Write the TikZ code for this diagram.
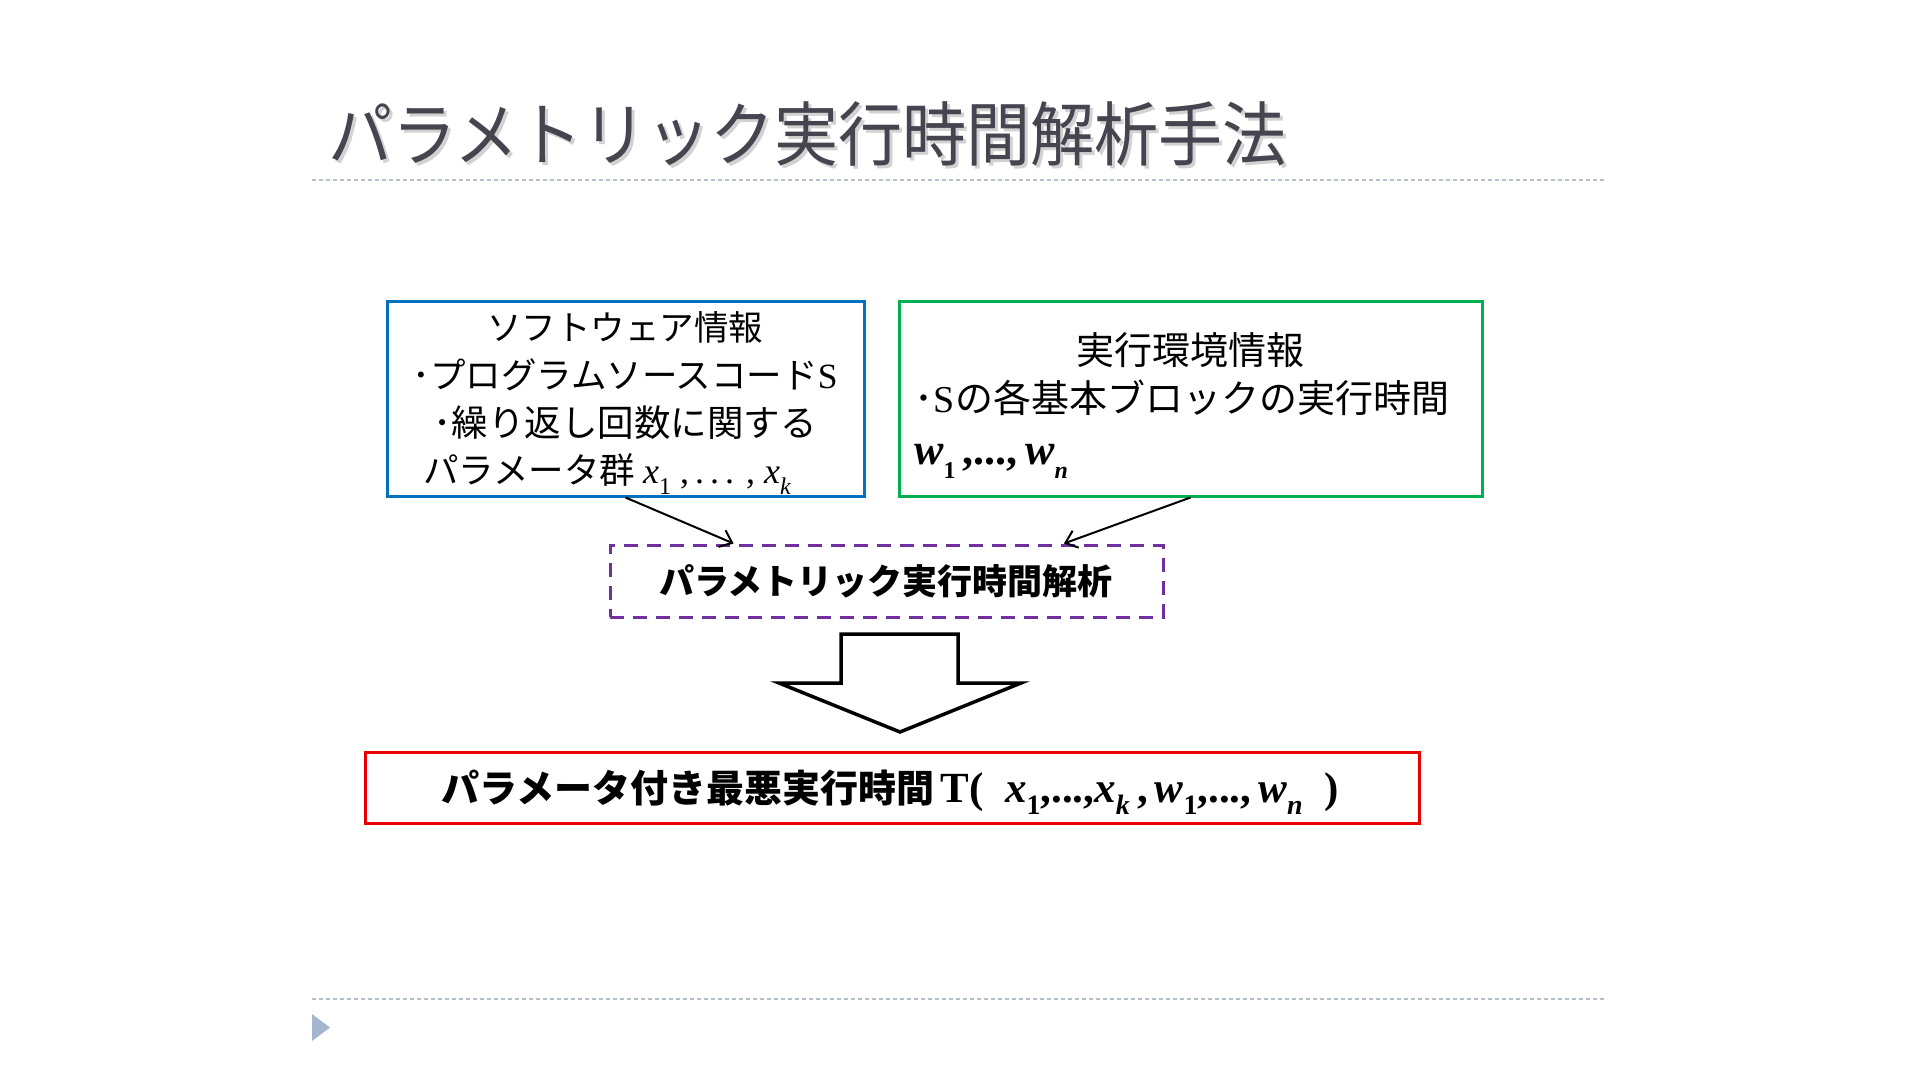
\documentclass[tikz,border=0pt]{standalone}
\usepackage{fontspec}
\usetikzlibrary{arrows.meta,calc}
\setmainfont{Liberation Serif}
\newfontfamily\jp{Noto Sans CJK JP}
\definecolor{boxblue}{HTML}{0070C0}
\definecolor{boxgreen}{HTML}{00B050}
\definecolor{boxpurple}{HTML}{7030A0}
\definecolor{boxred}{HTML}{E80000}
\definecolor{titlegray}{HTML}{46454F}
\definecolor{rulegray}{HTML}{B4C0CC}
\definecolor{trigray}{HTML}{A3B6CE}
\newcommand{\vsub}[2]{{\itshape #1}\raisebox{-0.32em}{\fontsize{24}{24}\selectfont #2}}
\newcommand{\vsubi}[2]{{\itshape #1}\raisebox{-0.32em}{\fontsize{24}{24}\selectfont\itshape #2}}
\newcommand{\vsubb}[2]{{\itshape #1}\raisebox{-0.3em}{\fontsize{28}{28}\selectfont #2}}
\newcommand{\vsubbi}[2]{{\itshape #1}\raisebox{-0.3em}{\fontsize{28}{28}\selectfont\itshape #2}}
\begin{document}
\begin{tikzpicture}[x=1pt,y=-1pt,
  box/.style={draw, line width=3pt, inner sep=0pt},
  jptxt/.style={font=\jp\fontsize{35.5}{40}\selectfont, inner sep=0pt, anchor=base},
  jpbig/.style={font=\jp\fontsize{38}{40}\selectfont, inner sep=0pt, anchor=base},
  jpbold/.style={font=\jp\bfseries\fontsize{35}{40}\selectfont, inner sep=0pt, anchor=base},
  titletext/.style={anchor=base west, inner sep=0pt, font=\jp\fontsize{70}{74}\selectfont, xscale=0.915, transform shape},
  conn/.style={line width=2pt, -{Straight Barb[length=11pt,width=18pt,line width=2pt]}},
  rulestyle/.style={rulegray, line width=1.6pt, dash pattern=on 4pt off 3pt}]
\useasboundingbox[fill=white] (0,0) rectangle (1920,1080);

% title
\node[titletext, text=gray!35] (titleshadow) at (331,163) {パラメトリック実行時間解析手法};
\node[titletext, text=titlegray] (title) at (328,160) {パラメトリック実行時間解析手法};

% rules and bullet
\draw[rulestyle] (312,180) -- (1607,180);
\draw[rulestyle] (312,999) -- (1607,999);
\fill[trigray] (312,1014) -- (330,1027.5) -- (312,1041) -- cycle;

% boxes
\node[box, draw=boxblue, minimum width=477pt, minimum height=195pt] (sw) at (625.5,398.5) {};
\node[box, draw=boxgreen, minimum width=583pt, minimum height=195pt] (env) at (1190.5,398.5) {};
\node[box, draw=boxpurple, dash pattern=on 14pt off 9pt, minimum width=553pt, minimum height=72pt] (pa) at (886.5,581) {};
\node[box, draw=boxred, minimum width=1054pt, minimum height=71pt] (res) at (892,787.5) {};

% blue text
\node[jptxt, font=\jp\fontsize{34.5}{40}\selectfont] (sw1) at (625,340) {ソフトウェア情報};
\node[jptxt] (sw2) at (625,388) {･プログラムソースコード{\rmfamily S}};
\node[jptxt, font=\jp\fontsize{36.5}{40}\selectfont] (sw3) at (625,436) {･繰り返し回数に関する};
\node[jptxt, anchor=base west] (sw4) at (423,483) {パラメータ群 {\rmfamily\fontsize{36}{40}\selectfont\vsub{x}{1} ,\,.\,.\,. , \vsubi{x}{k}}};

% green text
\node[jpbig] (env1) at (1190,364) {実行環境情報};
\node[jpbig] (env2) at (1182,412) {･{\rmfamily S}の各基本ブロックの実行時間};
\node[inner sep=0pt, anchor=base west, font=\rmfamily\bfseries\fontsize{44}{48}\selectfont] (env3) at (914,464) {\vsub{w}{1}\,,...,\,\vsubi{w}{n}};

% purple text
\node[jpbold] (pa1) at (886,594) {パラメトリック実行時間解析};

% red text
\node[inner sep=0pt, anchor=base, font=\fontsize{38}{40}\selectfont] (res1) at (890,802) {{\jp\bfseries パラメータ付き最悪実行時間}\,{\rmfamily\bfseries\fontsize{43}{45}\selectfont T(\enspace\vsubb{x}{1},...,\vsubbi{x}{k}\,,\,\vsubb{w}{1},...,\,\vsubbi{w}{n}\enspace)}};

% connectors
\draw[conn] (sw.south) -- ($(pa.north west)!0.225!(pa.north east)$);
\draw[conn] (env.south) -- ($(pa.north west)!0.819!(pa.north east)$);

% block arrow
\draw[line width=3.5pt, fill=white, line join=miter] (841,634) -- (958,634) -- (958,683) -- (1021,683) -- (900,732) -- (779,683) -- (841,683) -- cycle;
\end{tikzpicture}
\end{document}
